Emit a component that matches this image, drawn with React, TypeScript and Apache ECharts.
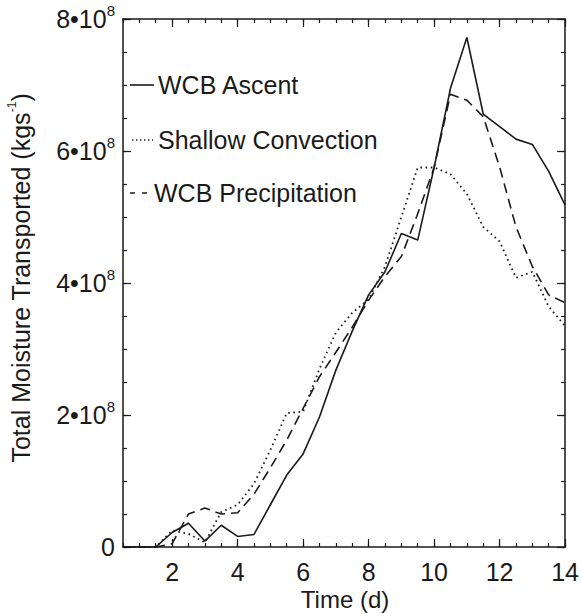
import React, { useEffect, useRef } from "react";
import * as echarts from "echarts";

// Time in days
const days = [0.5, 1, 1.5, 2, 2.5, 3, 3.5, 4, 4.5, 5, 5.5, 6, 6.5, 7, 7.5, 8, 8.5, 9, 9.5, 10, 10.5, 11, 11.5, 12, 12.5, 13, 13.5, 14];
// Total moisture transported, in units of 10^8 kg s^-1
const wcbAscent = [0, 0, 0, 0.22, 0.36, 0.09, 0.33, 0.16, 0.19, 0.64, 1.09, 1.41, 1.97, 2.68, 3.27, 3.82, 4.17, 4.75, 4.65, 5.75, 6.95, 7.72, 6.56, 6.37, 6.18, 6.1, 5.69, 5.18];
const shallowConvection = [0, 0, 0, 0.25, 0.2, 0.07, 0.53, 0.64, 0.96, 1.47, 2.03, 2.05, 2.7, 3.25, 3.55, 3.75, 4.25, 5.0, 5.75, 5.75, 5.65, 5.35, 4.85, 4.63, 4.08, 4.17, 3.64, 3.35];
const wcbPrecipitation = [0, 0, 0, 0.05, 0.5, 0.59, 0.5, 0.52, 0.8, 1.2, 1.62, 2.1, 2.58, 2.95, 3.33, 3.74, 4.1, 4.4, 5.05, 5.75, 6.86, 6.77, 6.52, 5.76, 4.85, 4.25, 3.82, 3.7];

const seriesNames = ["WCB Ascent", "Shallow Convection", "WCB Precipitation"];
const xMajorTicks = [2, 4, 6, 8, 10, 12, 14];
const xMinorTicks = [0.5, 1, 1.5, 2, 2.5, 3, 3.5, 4, 4.5, 5, 5.5, 6, 6.5, 7, 7.5, 8, 8.5, 9, 9.5, 10, 10.5, 11, 11.5, 12, 12.5, 13, 13.5, 14];
const xTitle = "Time (d)";
const yTitle = "Total Moisture Transported (kgs";

const FONT = '"Liberation Sans", Arial, Helvetica, sans-serif';
const INK = "#1a1a1a";

function pairs(ys: number[]) {
  return days.map((d, i) => [d, ys[i]]);
}

export default function App() {
  const ref = useRef<HTMLDivElement>(null);
  useEffect(() => {
    if (!ref.current) return;
    const chart = echarts.init(ref.current, undefined, { renderer: "svg" });
    const axisLine = { show: true, onZero: false, lineStyle: { color: INK, width: 1.5 } };
    const noLine = { show: false, onZero: false };
    const xBase = { type: "value", min: 0.5, max: 14, splitLine: { show: false } };
    const yBase = { type: "value", min: 0, max: 8, splitLine: { show: false } };
    const tickStyle = { color: INK, width: 1.2 };
    chart.setOption({
      animation: false,
      grid: { left: 123, right: 16, top: 19, bottom: 67, containLabel: false },
      xAxis: [
        {
          ...xBase,
          position: "bottom",
          axisLine,
          axisTick: { show: true, inside: true, length: 8, customValues: xMajorTicks, lineStyle: tickStyle },
          axisLabel: {
            show: true,
            customValues: xMajorTicks,
            fontSize: 25,
            fontFamily: FONT,
            color: INK,
            margin: 12,
          },
        },
        {
          ...xBase,
          position: "bottom",
          axisLine: noLine,
          axisTick: { show: true, inside: true, length: 4, customValues: xMinorTicks, lineStyle: tickStyle },
          axisLabel: { show: false },
        },
        {
          ...xBase,
          position: "top",
          axisLine,
          axisTick: { show: true, inside: true, length: 8, customValues: xMajorTicks, lineStyle: tickStyle },
          axisLabel: { show: false },
        },
        {
          ...xBase,
          position: "top",
          axisLine: noLine,
          axisTick: { show: true, inside: true, length: 4, customValues: xMinorTicks, lineStyle: tickStyle },
          axisLabel: { show: false },
        },
      ],
      yAxis: [
        {
          ...yBase,
          interval: 2,
          position: "left",
          axisLine,
          axisTick: { show: true, inside: true, length: 8, lineStyle: tickStyle },
          axisLabel: {
            show: true,
            margin: 8,
            formatter: (v: number) => (v === 0 ? "{m|0}" : `{m|${v}•10}{s|8}`),
            rich: {
              m: { fontSize: 25, fontFamily: FONT, color: INK, lineHeight: 32, verticalAlign: "middle" },
              s: { fontSize: 15, fontFamily: FONT, color: INK, lineHeight: 15, verticalAlign: "top" },
            },
          },
        },
        {
          ...yBase,
          interval: 0.5,
          position: "left",
          axisLine: noLine,
          axisTick: { show: true, inside: true, length: 4, lineStyle: tickStyle },
          axisLabel: { show: false },
        },
        {
          ...yBase,
          interval: 2,
          position: "right",
          axisLine,
          axisTick: { show: true, inside: true, length: 8, lineStyle: tickStyle },
          axisLabel: { show: false },
        },
        {
          ...yBase,
          interval: 0.5,
          position: "right",
          axisLine: noLine,
          axisTick: { show: true, inside: true, length: 4, lineStyle: tickStyle },
          axisLabel: { show: false },
        },
      ],
      series: [
        {
          name: seriesNames[0],
          type: "line",
          xAxisIndex: 0,
          yAxisIndex: 0,
          data: pairs(wcbAscent),
          showSymbol: false,
          lineStyle: { color: INK, width: 1.6, type: "solid" },
        },
        {
          name: seriesNames[1],
          type: "line",
          xAxisIndex: 0,
          yAxisIndex: 0,
          data: pairs(shallowConvection),
          showSymbol: false,
          lineStyle: { color: INK, width: 1.8, type: [1.6, 3.6] },
        },
        {
          name: seriesNames[2],
          type: "line",
          xAxisIndex: 0,
          yAxisIndex: 0,
          data: pairs(wcbPrecipitation),
          showSymbol: false,
          lineStyle: { color: INK, width: 1.6, type: [10, 6] },
        },
      ],
      graphic: [
        { type: "line", shape: { x1: 130, y1: 85, x2: 154, y2: 85 }, style: { stroke: INK, lineWidth: 1.6 } },
        { type: "line", shape: { x1: 132, y1: 140, x2: 153, y2: 140 }, style: { stroke: INK, lineWidth: 1.6, lineDash: [1.4, 2.6] } },
        { type: "line", shape: { x1: 130, y1: 193, x2: 148, y2: 193 }, style: { stroke: INK, lineWidth: 1.6, lineDash: [5, 7] } },
        { type: "text", x: 158, y: 85, style: { text: seriesNames[0], font: `25px ${FONT}`, fill: INK, align: "left", verticalAlign: "middle" } },
        { type: "text", x: 158, y: 140, style: { text: seriesNames[1], font: `25px ${FONT}`, fill: INK, align: "left", verticalAlign: "middle" } },
        { type: "text", x: 154, y: 193, style: { text: seriesNames[2], font: `25px ${FONT}`, fill: INK, align: "left", verticalAlign: "middle" } },
        { type: "text", x: 345, y: 599, style: { text: xTitle, font: `24px ${FONT}`, fill: INK, align: "center", verticalAlign: "middle" } },
        {
          type: "text",
          x: 21,
          y: 278,
          rotation: Math.PI / 2,
          style: {
            text: `{t|${yTitle}}{s|-1}{t|)}`,
            align: "center",
            verticalAlign: "middle",
            fill: INK,
            rich: {
              t: { fontSize: 25, fontFamily: FONT, color: INK, lineHeight: 30, verticalAlign: "middle" },
              s: { fontSize: 12, fontFamily: FONT, color: INK, lineHeight: 12, verticalAlign: "top" },
            },
          },
        },
      ],
    });
    return () => chart.dispose();
  }, []);
  return <div ref={ref} style={{ width: 582, height: 614, position: "absolute", left: 0, top: 0 }} />;
}
